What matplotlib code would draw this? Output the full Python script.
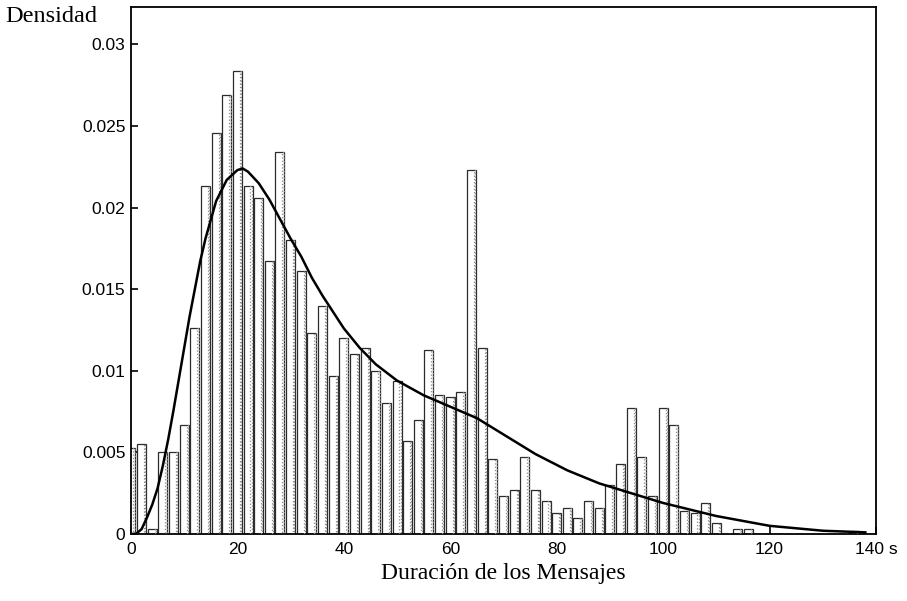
import matplotlib
matplotlib.use('Agg')
import matplotlib.pyplot as plt
import numpy as np

# --- data (bins 2 s wide, centred on even seconds) ---
bin_centers = list(range(0, 140, 2))
densidad = [
    0.0053, 0.0055, 0.0003, 0.0050, 0.0050, 0.0067, 0.0126, 0.0213, 0.0246, 0.0269,  # 0-18
    0.0284, 0.0213, 0.0206, 0.0167, 0.0234, 0.0180, 0.0161, 0.0123, 0.0140, 0.0097,  # 20-38
    0.0120, 0.0110, 0.0114, 0.0100, 0.0080, 0.0094, 0.0057, 0.0070, 0.0113, 0.0085,  # 40-58
    0.0084, 0.0087, 0.0223, 0.0114, 0.0046, 0.0023, 0.0027, 0.0047, 0.0027, 0.0020,  # 60-78
    0.0013, 0.0016, 0.0010, 0.0020, 0.0016, 0.0030, 0.0043, 0.0077, 0.0047, 0.0023,  # 80-98
    0.0077, 0.0067, 0.0014, 0.0013, 0.0019, 0.0007, 0.0000, 0.0003, 0.0003, 0.0000,  # 100-118
    0.0000, 0.0000, 0.0000, 0.0000, 0.0000, 0.0000, 0.0000, 0.0000, 0.0002, 0.0000,  # 120-138
]

# fitted density curve
curve_x = [0, 1, 2, 3, 4, 5, 6, 7, 8, 9, 10, 11, 12, 13, 14, 16, 18, 20, 21, 22,
           24, 26, 28, 30, 32, 34, 36, 38, 40, 43, 46, 50, 55, 60, 65, 70, 76, 82,
           88, 94, 100, 105, 110, 115, 120, 125, 130, 138]
curve_y = [0.0, 0.00002, 0.0003, 0.0010, 0.0018, 0.0028, 0.0042, 0.0058, 0.0076,
           0.0095, 0.0114, 0.0133, 0.0150, 0.0167, 0.0181, 0.0204, 0.0217, 0.0223,
           0.0224, 0.0222, 0.0215, 0.0205, 0.0193, 0.0181, 0.0170, 0.0157, 0.0146,
           0.0136, 0.0126, 0.0114, 0.0104, 0.0094, 0.0085, 0.0078, 0.0071, 0.0061,
           0.0049, 0.0039, 0.0031, 0.0025, 0.0019, 0.0015, 0.0011, 0.0008, 0.0005,
           0.00035, 0.0002, 0.0001]

yticks = [0, 0.005, 0.01, 0.015, 0.02, 0.025, 0.03]
ytick_labels = ['0', '0.005', '0.01', '0.015', '0.02', '0.025', '0.03']
xticks = [0, 20, 40, 60, 80, 100, 120, 140]
xtick_labels = ['0', '20', '40', '60', '80', '100', '120', '140 s']

SANS = 'Liberation Sans'
SERIF = 'Liberation Serif'

fig = plt.figure(figsize=(9.07, 6.01), dpi=100)
ax = fig.add_axes([0.1444, 0.1115, 0.8214, 0.877])

centers = np.array(bin_centers, dtype=float)
heights = np.array(densidad)

# white bars with a dark outline, a little gap between neighbours
ax.bar(centers, heights, width=1.7, color='white', edgecolor='#2b2b2b',
       linewidth=0.9, zorder=2)
# stippled strip on the right side of every bar (scan look)
ax.bar(centers + 0.58, heights, width=0.26, color='none', edgecolor='#8a8a8a',
       linewidth=0.9, linestyle=':', zorder=3)

ax.plot(curve_x, curve_y, color='black', linewidth=1.8, zorder=4)

ax.set_xlim(0, 140)
ax.set_ylim(0, 0.0323)
ax.set_xticks(xticks)
ax.set_xticklabels(xtick_labels, fontfamily=SANS, fontsize=12.5)
ax.set_yticks(yticks)
ax.set_yticklabels(ytick_labels, fontfamily=SANS, fontsize=12.5)
ax.tick_params(direction='in', length=5, width=1.2, pad=6)
ax.tick_params(axis='y', pad=4)
for s in ax.spines.values():
    s.set_linewidth(1.3)

fig.text(0.006, 0.972, 'Densidad', fontfamily=SERIF, fontsize=17.5,
         ha='left', va='center')
ax.set_xlabel('Duración de los Mensajes', fontfamily=SERIF, fontsize=17,
              labelpad=4)

fig.savefig('out.png', dpi=100)
